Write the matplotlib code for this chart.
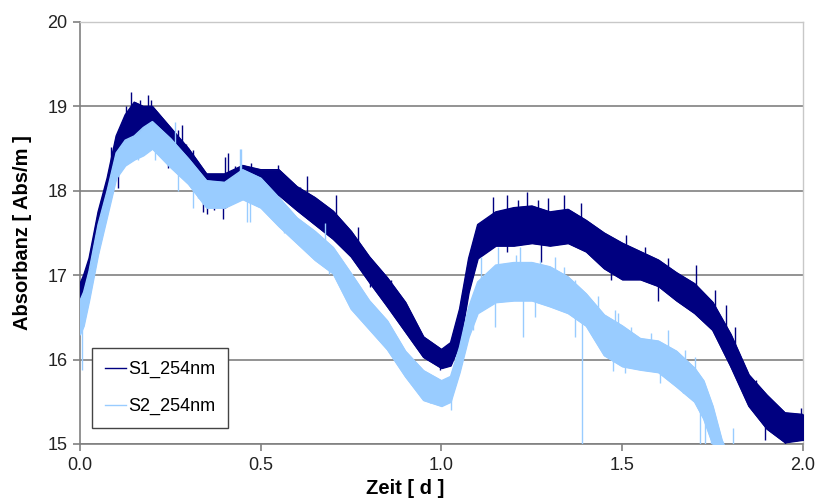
import matplotlib
matplotlib.use("Agg")
import matplotlib.pyplot as plt
import numpy as np

plt.rcParams["font.family"] = ["Liberation Sans", "DejaVu Sans"]

# Absorbance at 254 nm for two sensors, noise band given as low/high envelope
s1_t = [0.0, 0.01, 0.025, 0.05, 0.075, 0.1, 0.125, 0.15, 0.175, 0.2, 0.25, 0.3,
        0.35, 0.4, 0.45, 0.5, 0.55, 0.6, 0.65, 0.7, 0.75, 0.8, 0.85, 0.9, 0.95,
        1.0, 1.025, 1.05, 1.075, 1.1, 1.15, 1.2, 1.25, 1.3, 1.35, 1.4, 1.45,
        1.5, 1.55, 1.6, 1.65, 1.7, 1.75, 1.8, 1.85, 1.9, 1.95, 2.0]
s1_lo = [16.6, 16.7, 16.85, 17.4, 17.85, 18.25, 18.5, 18.6, 18.6, 18.6, 18.4, 18.2,
         17.85, 17.8, 17.95, 17.93, 17.95, 17.77, 17.6, 17.43, 17.22, 16.92, 16.63,
         16.33, 16.03, 15.9, 15.93, 16.18, 16.8, 17.2, 17.35, 17.35, 17.38, 17.35,
         17.38, 17.28, 17.08, 16.95, 16.95, 16.87, 16.7, 16.55, 16.35, 15.92, 15.45,
         15.18, 15.02, 15.05]
s1_hi = [16.9, 17.0, 17.2, 17.75, 18.15, 18.65, 18.9, 19.05, 19.0, 19.0, 18.75, 18.5,
         18.2, 18.2, 18.3, 18.25, 18.25, 18.05, 17.92, 17.76, 17.52, 17.22, 16.97,
         16.68, 16.27, 16.12, 16.2, 16.6, 17.2, 17.6, 17.75, 17.8, 17.82, 17.75,
         17.78, 17.65, 17.5, 17.38, 17.28, 17.18, 17.03, 16.9, 16.68, 16.3, 15.82,
         15.58, 15.37, 15.35]

s2_t = [0.0, 0.01, 0.025, 0.05, 0.075, 0.1, 0.125, 0.15, 0.175, 0.2, 0.25, 0.3,
        0.35, 0.4, 0.45, 0.5, 0.55, 0.6, 0.65, 0.7, 0.75, 0.8, 0.85, 0.9, 0.95,
        1.0, 1.025, 1.05, 1.075, 1.1, 1.15, 1.2, 1.25, 1.3, 1.35, 1.4, 1.45,
        1.5, 1.55, 1.6, 1.65, 1.7, 1.725, 1.75, 1.775, 1.8]
s2_lo = [16.3, 16.4, 16.7, 17.25, 17.7, 18.15, 18.3, 18.37, 18.42, 18.5, 18.28, 18.08,
         17.8, 17.8, 17.9, 17.8, 17.58, 17.38, 17.18, 17.02, 16.6, 16.36, 16.12,
         15.8, 15.52, 15.45, 15.5, 15.85, 16.27, 16.55, 16.68, 16.7, 16.7, 16.63,
         16.55, 16.4, 16.05, 15.92, 15.88, 15.85, 15.68, 15.5, 15.3, 15.0, 14.6, 14.5]
s2_hi = [16.7, 16.8, 17.05, 17.6, 18.0, 18.45, 18.6, 18.65, 18.75, 18.82, 18.62, 18.38,
         18.12, 18.1, 18.25, 18.15, 17.92, 17.68, 17.52, 17.33, 17.02, 16.7, 16.46,
         16.1, 15.87, 15.75, 15.8, 16.15, 16.62, 16.92, 17.12, 17.15, 17.15, 17.1,
         16.98, 16.78, 16.53, 16.4, 16.25, 16.22, 16.1, 15.9, 15.75, 15.45, 15.05, 14.8]

# single readings that stick out of the band (time, value)
s1_spikes = [
    (0.018, 16.98), (0.045, 17.57), (0.068, 18.01), (0.086, 18.52), (0.105, 18.64),
    (0.105, 18.03), (0.128, 19.0), (0.142, 19.17), (0.165, 19.08), (0.188, 19.13),
    (0.196, 19.08), (0.211, 18.88), (0.239, 18.8), (0.244, 18.27), (0.271, 18.72),
    (0.281, 18.78), (0.294, 18.56), (0.312, 18.48), (0.34, 17.75), (0.35, 17.73),
    (0.37, 17.77), (0.396, 17.67), (0.4, 18.4), (0.41, 18.45), (0.428, 18.29),
    (0.474, 18.33), (0.548, 18.31), (0.608, 18.05), (0.627, 18.17), (0.709, 17.95),
    (0.769, 17.57), (0.801, 16.86), (0.824, 17.02), (0.861, 16.94), (0.889, 16.51),
    (0.898, 16.63), (0.971, 16.19), (0.996, 15.88), (1.142, 17.93), (1.18, 17.95),
    (1.18, 17.27), (1.212, 17.89), (1.237, 17.99), (1.267, 17.89), (1.275, 17.16),
    (1.295, 17.91), (1.31, 17.4), (1.339, 17.95), (1.387, 17.85), (1.433, 17.54),
    (1.47, 17.38), (1.47, 16.94), (1.511, 17.48), (1.562, 17.34), (1.6, 16.7),
    (1.627, 17.2), (1.673, 16.63), (1.705, 17.12), (1.737, 16.47), (1.756, 16.82),
    (1.787, 16.65), (1.8, 15.91), (1.811, 16.39), (1.87, 15.76), (1.894, 15.05),
    (1.93, 15.44), (1.95, 15.0), (1.994, 15.43),
]
s2_spikes = [
    (0.005, 15.88), (0.05, 17.26), (0.16, 18.36), (0.207, 18.36), (0.263, 18.82),
    (0.271, 18.0), (0.313, 17.8), (0.326, 17.91), (0.443, 18.5), (0.446, 18.5),
    (0.462, 17.63), (0.469, 17.63), (0.564, 17.5), (0.584, 17.74), (0.642, 17.22),
    (0.677, 17.62), (0.69, 17.02), (0.741, 17.06), (0.763, 16.63), (0.81, 16.35),
    (0.857, 16.11), (0.903, 15.8), (0.967, 15.48), (1.027, 15.4), (1.087, 16.35),
    (1.11, 17.22), (1.147, 16.39), (1.157, 17.34), (1.206, 17.24), (1.216, 17.34),
    (1.226, 16.27), (1.258, 16.51), (1.272, 17.18), (1.313, 17.22), (1.34, 17.1),
    (1.368, 16.94), (1.368, 16.27), (1.389, 15.0), (1.414, 16.43), (1.433, 16.75),
    (1.474, 15.86), (1.479, 16.59), (1.488, 16.55), (1.507, 15.84), (1.524, 16.39),
    (1.58, 16.31), (1.604, 15.72), (1.627, 16.35), (1.669, 15.6), (1.673, 16.11),
    (1.70, 16.03), (1.715, 15.0), (1.73, 15.0), (1.745, 15.0), (1.76, 15.0),
    (1.806, 15.19),
]

S1_COLOR = "#000080"
S2_COLOR = "#99ccff"
GRID = "#808080"

fig = plt.figure(figsize=(8.17, 5.01), dpi=100)
fig.patch.set_facecolor("white")
ax = fig.add_axes([80 / 817, 1 - 444 / 501, 723 / 817, 422 / 501])


def draw_series(t, lo, hi, spikes, color, label, z):
    t = np.asarray(t)
    lo = np.asarray(lo)
    hi = np.asarray(hi)
    ax.fill_between(t, lo, hi, color=color, linewidth=1.0, zorder=z)
    ax.plot(t, lo, color=color, linewidth=1.0, zorder=z)
    ax.plot(t, hi, color=color, linewidth=1.0, zorder=z, label=label)
    spike_t = np.array([s[0] for s in spikes])
    spike_v = np.array([s[1] for s in spikes])
    base = np.interp(spike_t, t, (lo + hi) / 2)
    ax.vlines(spike_t, base, spike_v, color=color, linewidth=1.0, zorder=z)


draw_series(s1_t, s1_lo, s1_hi, s1_spikes, S1_COLOR, "S1_254nm", 3)
draw_series(s2_t, s2_lo, s2_hi, s2_spikes, S2_COLOR, "S2_254nm", 4)

ax.set_xlim(0, 2)
ax.set_ylim(15, 20)
ax.set_xticks([0.0, 0.5, 1.0, 1.5, 2.0])
ax.set_xticklabels(["0.0", "0.5", "1.0", "1.5", "2.0"])
ax.set_yticks([15, 16, 17, 18, 19, 20])
ax.yaxis.grid(True, color=GRID, linewidth=1.2)
ax.set_axisbelow(True)

for side in ("top", "right"):
    ax.spines[side].set_color("#c8c8c8")
    ax.spines[side].set_linewidth(1.0)
for side in ("left", "bottom"):
    ax.spines[side].set_color(GRID)
    ax.spines[side].set_linewidth(1.2)
ax.tick_params(direction="out", length=5, width=1.2, color=GRID,
               labelsize=13, labelcolor="#222222", pad=4)

ax.set_xlabel("Zeit [ d ]", fontsize=14.5, fontweight="bold")
ax.xaxis.set_label_coords(0.45, -0.083)
ax.set_ylabel("Absorbanz [ Abs/m ]", fontsize=14.5, fontweight="bold")
ax.yaxis.set_label_coords(-0.066, 0.502)

leg = ax.legend(loc="lower left", bbox_to_anchor=(0.0166, 0.038), borderaxespad=0,
                fancybox=False, edgecolor="#444444", fontsize=13,
                handlelength=1.2, handletextpad=0.12, labelspacing=1.1,
                borderpad=0.7, framealpha=1)
leg.get_frame().set_linewidth(1.0)
for h in leg.get_lines():
    h.set_linewidth(1.0)

fig.savefig("out.png", dpi=100)
